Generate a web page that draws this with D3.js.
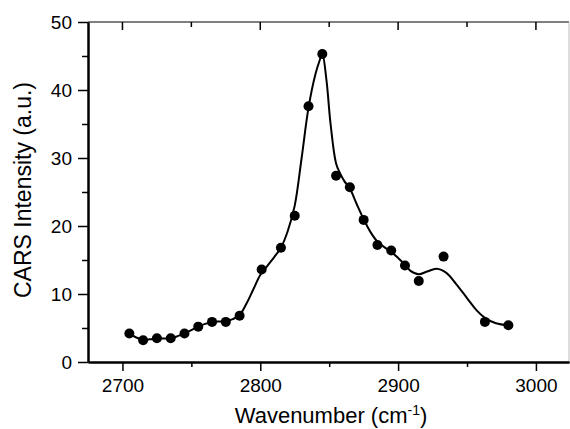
<!DOCTYPE html>
<html>
<head>
<meta charset="utf-8">
<script src="https://cdn.jsdelivr.net/npm/d3@7"></script>
<style>
  body { margin: 0; background: #fff; }
  svg { display: block; font-family: "Liberation Sans", Arial, sans-serif; }
</style>
</head>
<body>
<svg id="chart" width="570" height="429"></svg>
<script>
// measured points (wavenumber, CARS intensity)
const wavenumber = [2705, 2715, 2725, 2735, 2745, 2755, 2765, 2775, 2785, 2801, 2815, 2825,
  2835, 2845, 2855, 2865, 2875, 2885, 2895, 2905, 2915, 2933, 2963, 2980];
const intensity = [4.2, 3.2, 3.5, 3.5, 4.2, 5.2, 5.9, 5.9, 6.8, 13.6, 16.8, 21.5,
  37.6, 45.3, 27.4, 25.7, 20.9, 17.2, 16.4, 14.2, 11.9, 15.5, 5.9, 5.4];

// fitted curve
const fitX = [2705, 2710, 2715, 2720, 2725, 2730, 2735, 2740, 2745, 2750, 2755, 2760, 2765, 2770,
  2775, 2780, 2785, 2790, 2795, 2800, 2805, 2810, 2815, 2820, 2825, 2830, 2835, 2840, 2843,
  2845, 2848, 2851, 2855, 2858, 2861, 2865, 2870, 2875, 2880, 2885, 2890, 2895, 2900, 2905,
  2909, 2915, 2921, 2928, 2935, 2942, 2950, 2957, 2963, 2971, 2980];
const fitY = [4.2, 3.6, 3.3, 3.35, 3.45, 3.45, 3.5, 3.8, 4.2, 4.7, 5.2, 5.6, 5.85, 5.95,
  6.0, 6.3, 6.9, 8.6, 10.7, 12.8, 14.1, 15.4, 16.8, 19.3, 23.0, 30.0, 37.4, 42.3, 44.3,
  45.3, 41.5, 35.0, 29.2, 27.7, 26.6, 25.5, 23.2, 21.0, 19.1, 17.7, 16.9, 16.2, 15.3, 14.3,
  13.4, 12.9, 13.3, 13.7, 13.1, 11.5, 9.4, 7.6, 6.5, 5.7, 5.4];

const xTicks = [2700, 2800, 2900, 3000];
const xMinor = [2750, 2850, 2950];
const yTicks = [0, 10, 20, 30, 40, 50];
const yMinor = [5, 15, 25, 35, 45];

const svg = d3.select('#chart');
const pLeft = 88, pRight = 569, pTop = 22, pBottom = 362;

const x = d3.scaleLinear().domain([2675, 3024]).range([pLeft, pRight]);
const y = d3.scaleLinear().domain([0, 50]).range([pBottom, pTop]);

// frame: top and right in grey
svg.append('line')
  .attr('x1', pLeft).attr('x2', pRight).attr('y1', pTop).attr('y2', pTop)
  .style('stroke', '#555').style('stroke-width', 1.5);
svg.append('line')
  .attr('x1', pRight).attr('x2', pRight).attr('y1', pTop).attr('y2', pBottom)
  .style('stroke', '#bbb').style('stroke-width', 1);

// top ticks, pointing inward
svg.selectAll('.topmaj').data(xTicks).join('line')
  .attr('x1', d => x(d)).attr('x2', d => x(d)).attr('y1', pTop).attr('y2', pTop + 8)
  .style('stroke', '#000').style('stroke-width', 1.5);
svg.selectAll('.topmin').data(xMinor).join('line')
  .attr('x1', d => x(d)).attr('x2', d => x(d)).attr('y1', pTop).attr('y2', pTop + 5)
  .style('stroke', '#000').style('stroke-width', 1.5);

// bottom axis
const xAxis = svg.append('g').attr('transform', `translate(0,${pBottom})`)
  .call(d3.axisBottom(x).tickValues(xTicks).tickSize(9).tickSizeOuter(0).tickPadding(8).tickFormat(d3.format('d')));
svg.append('g').attr('transform', `translate(0,${pBottom})`)
  .call(d3.axisBottom(x).tickValues(xMinor).tickSize(5).tickSizeOuter(0).tickFormat(''));

// left axis
const yAxis = svg.append('g').attr('transform', `translate(${pLeft},0)`)
  .call(d3.axisLeft(y).tickValues(yTicks).tickSize(10).tickSizeOuter(0).tickPadding(6));
svg.append('g').attr('transform', `translate(${pLeft},0)`)
  .call(d3.axisLeft(y).tickValues(yMinor).tickSize(6).tickSizeOuter(0).tickFormat(''));

svg.selectAll('.domain').style('stroke', '#000').style('stroke-width', 2);
svg.selectAll('.tick line').style('stroke', '#000').style('stroke-width', 1.5);
svg.selectAll('.tick text').style('font-size', '19px').style('fill', '#000')
  .style('font-family', '"Liberation Sans", Arial, sans-serif');
xAxis.selectAll('.tick text').attr('dy', '0.71em');

// fit curve
const fitData = fitX.map((d, i) => [d, fitY[i]]);
svg.append('path')
  .datum(fitData)
  .attr('d', d3.line().x(d => x(d[0])).y(d => y(d[1])).curve(d3.curveCatmullRom.alpha(0.5)))
  .style('fill', 'none').style('stroke', '#000').style('stroke-width', 2);

// data points
svg.selectAll('.pt').data(wavenumber).join('circle')
  .attr('cx', d => x(d))
  .attr('cy', (d, i) => y(intensity[i]))
  .attr('r', 5)
  .style('fill', '#000');

// axis titles
const xt = svg.append('text')
  .attr('x', 331).attr('y', 423)
  .attr('text-anchor', 'middle')
  .style('font-size', '22px');
xt.append('tspan').text('Wavenumber (cm');
xt.append('tspan').text('-1').attr('dy', -8).style('font-size', '14px');
xt.append('tspan').text(')').attr('dy', 8);

svg.append('text')
  .attr('transform', 'translate(31,190) rotate(-90)')
  .attr('text-anchor', 'middle')
  .style('font-size', '23px')
  .text('CARS Intensity (a.u.)');
</script>
</body>
</html>
